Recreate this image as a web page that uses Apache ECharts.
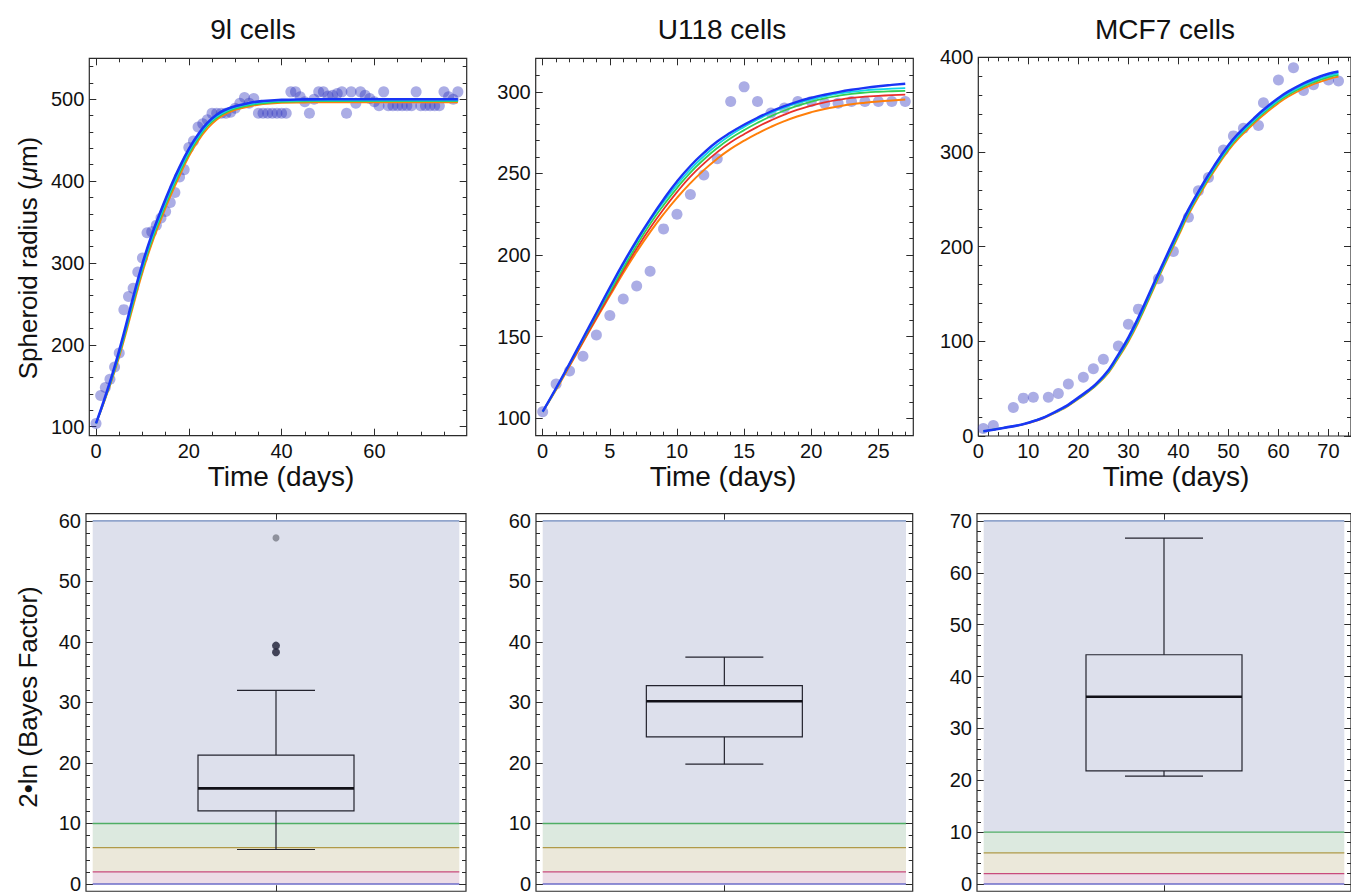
<!DOCTYPE html>
<html>
<head>
<meta charset="utf-8">
<script src="https://cdn.jsdelivr.net/npm/echarts@6/dist/echarts.min.js"></script>
<style>
html,body{margin:0;padding:0;background:#ffffff;}
#chart{width:1351px;height:894px;}
</style>
</head>
<body>
<div id="chart"></div>
<script>
// ---------------- text ----------------
const panelTitles = ['9l cells', 'U118 cells', 'MCF7 cells'];
const timeAxisTitle = 'Time (days)';
const nLabels = ['n = 32', 'n = 8', 'n = 5'];

// ---------------- 9l cells ----------------
const days9l = [0,1,2,3,4,5,6,7,8,9,10,11,12,13,14,15,16,17,18,19,20,21,22,23,24,25,26,27,28,29,30,31,32,33,34,35,36,37,38,39,40,41,42,43,44,45,46,47,48,49,50,51,52,53,54,55,56,57,58,59,60,61,62,63,64,65,66,67,68,69,70,71,72,73,74,75,76,77,78];
const radius9l = [104,138,148,158,173,190,243,259,269,289,
                  306,337,338,346,355,363,374,386,405,414,
                  441,449,466,470,475,483,483,483,483,484,
                  489,495,502,495,501,483,483,483,483,483,
                  483,483,509,509,503,497,483,500,509,509,
                  504,505,507,509,483,509,495,509,505,501,
                  497,492,509,492,492,492,492,492,492,509,
                  492,492,492,492,492,509,503,500,509];
const fitDays9l = [0,2,4,6,8,10,12,14,16,18,20,22,24,26,28,30,33,36,40,45,50,60,70,78];
const fit9lBlue   = [104,137,173,214,258,299,334,364,392,417,439,457,471,481,487.5,491.5,495.5,497.8,499.2,499.8,500,500,500,500];
const fit9lCyan   = [104,136,171,211,254,295,330,360,388,413,436,454,469,479,485.5,490,494,496.5,498,498.5,498.6,498.6,498.6,498.6];
const fit9lGreen  = [104,135,169,208,251,292,327,357,385,410,433,452,467,477,484,488.5,492.5,495,496.8,497.5,497.6,497.6,497.6,497.6];
const fit9lOrange = [104,134,167,205,247,288,323,353,381,406,430,449,464,475,482,487,491,494,495.5,496,496.2,496.2,496.2,496.2];

// ---------------- U118 cells ----------------
const daysU118 = [0,1,2,3,4,5,6,7,8,9,10,11,12,13,14,15,16,17,18,19,20,21,22,23,24,25,26,27];
const radiusU118 = [104,121,129,138,151,163,173,181,190,216,225,237,249,259,294,303,294,287,290,294,294,293,293,294,294,294,294,294];
const fitDaysU118 = [0,1,2,3,4,5,6,7,8,9,10,11,12,13,14,15,16,17,18,19,20,21,22,23,24,25,26,27];
const fitU118Blue   = [104,118.5,133.5,149,164.5,180,195,209,222,234,245,254.5,262.5,269.5,275,279.8,284.1,287.9,291.2,294,296.3,298.2,299.8,301.2,302.4,303.4,304.2,304.9];
const fitU118Cyan   = [104,118.2,133.2,148.5,164,179,194,208,221,232.5,243,252.5,260.5,267.5,273.5,278.5,283,287,290.3,293,295.3,297.2,298.8,300,300.9,301.5,301.9,302.2];
const fitU118Green  = [104,118,133,148,163,177.5,192,206,219,230.5,241,250.5,258.5,265.5,271.5,276.5,281,285,288.5,291.5,294,296,297.5,298.7,299.5,300,300.3,300.5];
const fitU118Red    = [104,118,132.5,147,161.5,176,190.5,204,216.5,228,238.5,248,256,263,269,274,278.5,282.5,286,289,291.5,293.5,295,296.2,297,297.5,297.9,298.2];
const fitU118Orange = [104,117.5,132,146.5,161,175,189,202,214,225,235,244,252,259,265,270,274.5,278.5,282,285,287.5,289.5,291,292.3,293.3,294.1,294.7,295.2];

// ---------------- MCF7 cells ----------------
const daysMCF7 = [1,3,7,9,11,14,16,18,21,23,25,28,30,32,36,39,42,44,46,49,51,53,56,57,60,63,65,67,70,72];
const radiusMCF7 = [8,11,30,40,41,41,45,55,62,71,81,95,118,134,166,195,231,259,273,302,317,325,328,352,376,389,365,371,376,375];
const fitDaysMCF7 = [1,5,10,15,20,25,28,30,32,35,37,40,42,45,47,50,52,55,57,60,62,65,67,70,72];
const fitMCF7Blue   = [5,8.5,14,24.5,40.5,63,86,104,125,160,183,217,239,267,284,307,319.5,335,344.5,357,364,372.5,377,382.5,385];
const fitMCF7Cyan   = [5,8.5,14,24,40,62,84.5,102,123,158,181,215,237,265,282,305,317.5,333,342.5,355,362,370.5,375,380.5,383];
const fitMCF7Green  = [5,8.5,14,24,39.5,61.5,83.5,101,121.5,156.5,179.5,213,235.5,263.5,280.5,303.5,316,331.5,341,353.5,360.5,369,373.5,379,381.5];
const fitMCF7Orange = [5,8.5,13.5,23.5,39,60.5,82.5,99.5,120,155,178,211,233.5,261.5,278.5,301.5,314,329.5,339,351.5,358.5,367,371.5,377,379.5];

// ---------------- Bayes factor box plots ----------------
// [lower whisker, Q1, median, Q3, upper whisker]
const box9l   = [5.7, 12.1, 15.8, 21.3, 32.0];
const boxU118 = [19.8, 24.3, 30.2, 32.8, 37.5];
const boxMCF7 = [20.8, 21.8, 36.1, 44.2, 66.7];
const outliers9l = [38.3, 39.4];
const farOutliers9l = [57.2];
const boxCategory = [''];
const bandBounds60 = [[0,2],[2,6],[6,10],[10,60]];
const bandBounds70 = [[0,2],[2,6],[6,10],[10,70]];
const bandLines60 = [0,2,6,10,60];
const bandLines70 = [0,2,6,10,70];

// ---------------- tick values ----------------
const ticks9lX = [0,20,40,60];
const minor9lX = [5,10,15,25,30,35,45,50,55,65,70,75];
const ticks9lY = [100,200,300,400,500];
const minor9lY = [120,140,160,180,220,240,260,280,320,340,360,380,420,440,460,480,520,540];
const ticksU118X = [0,5,10,15,20,25];
const minorU118X = [1,2,3,4,6,7,8,9,11,12,13,14,16,17,18,19,21,22,23,24,26,27];
const ticksU118Y = [100,150,200,250,300];
const minorU118Y = [110,120,130,140,160,170,180,190,210,220,230,240,260,270,280,290,310];
const ticksMCF7X = [0,10,20,30,40,50,60,70];
const minorMCF7X = [2,4,6,8,12,14,16,18,22,24,26,28,32,34,36,38,42,44,46,48,52,54,56,58,62,64,66,68,72,74];
const ticksMCF7Y = [0,100,200,300,400];
const minorMCF7Y = [20,40,60,80,120,140,160,180,220,240,260,280,320,340,360,380];
const ticksBF60 = [0,10,20,30,40,50,60];
const minorBF60 = [2,4,6,8,12,14,16,18,22,24,26,28,32,34,36,38,42,44,46,48,52,54,56,58];
const ticksBF70 = [0,10,20,30,40,50,60,70];
const minorBF70 = [2,4,6,8,12,14,16,18,22,24,26,28,32,34,36,38,42,44,46,48,52,54,56,58,62,64,66,68];

// ---------------- styles / layout ----------------
const FONT = '"Liberation Sans", Arial, Helvetica, sans-serif';
const TICK = '#2b2b2b';
const DOT = 'rgba(45,50,190,0.5)';
const CURVE = {blue:'#1a35f5', cyan:'#12d6e6', green:'#34cf52', red:'#e8302a', orange:'#ff7f0a'};
const bandFills = ['#ecdce6', '#ebe8da', '#dce9df', '#dde0ec'];
const bandLineColors = ['#6c6cc8', '#c84a7c', '#b09a48', '#4fae64', '#6d87bb'];
const BAND_INSET = 6.7;

const grids = [
  {left: 89.3, top: 58.3, width: 377.4, height: 377.4},
  {left: 535.7, top: 58.3, width: 377.6, height: 377.4},
  {left: 978.3, top: 57.3, width: 376, height: 378.7},
  {left: 86, top: 513.7, width: 380, height: 380.6},
  {left: 536, top: 513.7, width: 376.7, height: 380.6},
  {left: 977, top: 513.7, width: 376, height: 380.6}
].map(g => Object.assign({show: true, borderColor: '#2b2b2b', borderWidth: 1.2, backgroundColor: 'transparent'}, g));

const xAxes = [], yAxes = [];

function addValueAxes(list, dim, gi, min, max, major, minor) {
  const sides = dim === 'x' ? ['bottom', 'top'] : ['left', 'right'];
  const first = list.length;
  sides.forEach((pos, si) => {
    [[major, 7, si === 0], [minor, 4, false]].forEach(([vals, len, lab]) => {
      list.push({
        type: 'value', gridIndex: gi, min: min, max: max, position: pos,
        axisLine: {show: false, onZero: false},
        splitLine: {show: false},
        axisTick: {show: vals.length > 0, inside: true, length: len, customValues: vals,
                   lineStyle: {color: TICK, width: 1}},
        axisLabel: {show: lab, customValues: major, fontSize: 20, fontFamily: FONT,
                    color: '#111', margin: 5}
      });
    });
  });
  return first;
}

function addCatAxes(gi) {
  const first = xAxes.length;
  ['bottom', 'top'].forEach(pos => {
    xAxes.push({
      type: 'category', gridIndex: gi, data: boxCategory, position: pos, boundaryGap: true,
      axisLine: {show: false, onZero: false},
      axisTick: {show: true, inside: true, alignWithLabel: true, length: 6, lineStyle: {color: TICK, width: 1}},
      axisLabel: {show: false}, splitLine: {show: false}
    });
  });
  return first;
}

const pairs = (xs, ys) => xs.map((x, i) => [x, ys[i]]);
const series = [];

function addGrowthPanel(gi, xr, yr, xt, xm, yt, ym, days, radius, fitDays, curves) {
  const xi = addValueAxes(xAxes, 'x', gi, xr[0], xr[1], xt, xm);
  const yi = addValueAxes(yAxes, 'y', gi, yr[0], yr[1], yt, ym);
  series.push({
    type: 'scatter', xAxisIndex: xi, yAxisIndex: yi, data: pairs(days, radius),
    symbolSize: 11, itemStyle: {color: DOT}, z: 2, silent: true
  });
  curves.forEach(([vals, color, width]) => {
    series.push({
      type: 'line', xAxisIndex: xi, yAxisIndex: yi, data: pairs(fitDays, vals),
      showSymbol: false, smooth: 0.5,
      lineStyle: {color: color, width: width}, z: 3, silent: true
    });
  });
}

addGrowthPanel(0, [-1.45, 79.9], [89, 550], ticks9lX, minor9lX, ticks9lY, minor9lY,
  days9l, radius9l, fitDays9l,
  [[fit9lOrange, CURVE.orange, 1.8], [fit9lGreen, CURVE.green, 1.8], [fit9lCyan, CURVE.cyan, 1.8], [fit9lBlue, CURVE.blue, 2.6]]);
addGrowthPanel(1, [-0.52, 27.6], [89.3, 320.5], ticksU118X, minorU118X, ticksU118Y, minorU118Y,
  daysU118, radiusU118, fitDaysU118,
  [[fitU118Orange, CURVE.orange, 2], [fitU118Red, CURVE.red, 1.8], [fitU118Green, CURVE.green, 1.8], [fitU118Cyan, CURVE.cyan, 1.8], [fitU118Blue, CURVE.blue, 2.4]]);
addGrowthPanel(2, [0, 74.5], [0, 400], ticksMCF7X, minorMCF7X, ticksMCF7Y, minorMCF7Y,
  daysMCF7, radiusMCF7, fitDaysMCF7,
  [[fitMCF7Orange, CURVE.orange, 1.8], [fitMCF7Green, CURVE.green, 1.8], [fitMCF7Cyan, CURVE.cyan, 1.8], [fitMCF7Blue, CURVE.blue, 2.6]]);

function bandRender(params, api) {
  const cs = params.coordSys;
  const y0 = api.coord([0, api.value(1)])[1];
  const y1 = api.coord([0, api.value(2)])[1];
  return {
    type: 'rect',
    shape: {x: cs.x + BAND_INSET, y: Math.min(y0, y1), width: cs.width - 2 * BAND_INSET, height: Math.abs(y1 - y0)},
    style: {fill: bandFills[params.dataIndex]}
  };
}
function bandLineRender(params, api) {
  const cs = params.coordSys;
  const y = api.coord([0, api.value(1)])[1];
  return {
    type: 'line',
    shape: {x1: cs.x + BAND_INSET, y1: y, x2: cs.x + cs.width - BAND_INSET, y2: y},
    style: {stroke: bandLineColors[params.dataIndex], lineWidth: 1.3}
  };
}
function boxRender(params, api) {
  const x = api.coord([0, api.value(3)])[0];
  const y = k => api.coord([0, api.value(k)])[1];
  const yl = y(1), yq1 = y(2), ym = y(3), yq3 = y(4), yh = y(5);
  const hw = 78, cw = 39;
  const st = {stroke: '#23232e', lineWidth: 1.2, fill: 'none'};
  return {
    type: 'group', children: [
      {type: 'rect', shape: {x: x - hw, y: yq3, width: 2 * hw, height: yq1 - yq3}, style: st},
      {type: 'line', shape: {x1: x, y1: yq3, x2: x, y2: yh}, style: st},
      {type: 'line', shape: {x1: x, y1: yq1, x2: x, y2: yl}, style: st},
      {type: 'line', shape: {x1: x - cw, y1: yh, x2: x + cw, y2: yh}, style: st},
      {type: 'line', shape: {x1: x - cw, y1: yl, x2: x + cw, y2: yl}, style: st},
      {type: 'line', shape: {x1: x - hw, y1: ym, x2: x + hw, y2: ym}, style: {stroke: '#111118', lineWidth: 2.6}}
    ]
  };
}

function addBoxPanel(gi, yr, yt, ym, box, bounds, lines, outl, farOutl) {
  const xi = addCatAxes(gi);
  const yi = addValueAxes(yAxes, 'y', gi, yr[0], yr[1], yt, ym);
  series.push({
    type: 'custom', xAxisIndex: xi, yAxisIndex: yi, renderItem: bandRender,
    data: bounds.map(b => [0, b[0], b[1]]), encode: {x: 0, y: [1, 2]}, z: 1, silent: true
  });
  series.push({
    type: 'custom', xAxisIndex: xi, yAxisIndex: yi, renderItem: bandLineRender,
    data: lines.map(v => [0, v]), encode: {x: 0, y: 1}, z: 2, silent: true
  });
  series.push({
    type: 'custom', xAxisIndex: xi, yAxisIndex: yi, renderItem: boxRender,
    data: [[0].concat(box)], encode: {x: 0, y: [1, 2, 3, 4, 5]}, z: 3, silent: true
  });
  if (outl.length) {
    series.push({
      type: 'scatter', xAxisIndex: xi, yAxisIndex: yi, data: outl.map(v => [0, v]),
      symbolSize: 8, itemStyle: {color: '#1b1d33'}, z: 4, silent: true
    });
  }
  if (farOutl.length) {
    series.push({
      type: 'scatter', xAxisIndex: xi, yAxisIndex: yi, data: farOutl.map(v => [0, v]),
      symbolSize: 7, itemStyle: {color: '#7a7d88'}, z: 4, silent: true
    });
  }
}

addBoxPanel(3, [-1.2, 61.2], ticksBF60, minorBF60, box9l, bandBounds60, bandLines60, outliers9l, farOutliers9l);
addBoxPanel(4, [-1.2, 61.2], ticksBF60, minorBF60, boxU118, bandBounds60, bandLines60, [], []);
addBoxPanel(5, [-1.4, 71.4], ticksBF70, minorBF70, boxMCF7, bandBounds70, bandLines70, [], []);

// ---------------- free text ----------------
const titleX = [253, 722, 1165];
const timeX = [281, 723, 1176];
const nRight = [440, 880, 1325];
const graphic = [];
panelTitles.forEach((t, i) => graphic.push({
  type: 'text', x: titleX[i], y: 29, silent: true,
  style: {text: t, fontSize: 28, fontFamily: FONT, fill: '#111', align: 'center', verticalAlign: 'middle', textAlign: 'center', textVerticalAlign: 'middle'}
}));
timeX.forEach(x => graphic.push({
  type: 'text', x: x, y: 476, silent: true,
  style: {text: timeAxisTitle, fontSize: 28, fontFamily: FONT, fill: '#111', align: 'center', verticalAlign: 'middle', textAlign: 'center', textVerticalAlign: 'middle'}
}));
nLabels.forEach((t, i) => graphic.push({
  type: 'text', x: nRight[i], y: 566, silent: true,
  style: {text: t, fontSize: 32, fontFamily: FONT, fill: '#111', align: 'right', verticalAlign: 'middle', textAlign: 'right', textVerticalAlign: 'middle'}
}));
graphic.push({
  type: 'text', x: 28, y: 258, rotation: Math.PI / 2, silent: true,
  style: {text: '{r|Spheroid radius (}{i|μ}{r|m)}', fontSize: 26, fontFamily: FONT, fill: '#111',
          align: 'center', verticalAlign: 'middle', textAlign: 'center', textVerticalAlign: 'middle',
          rich: {r: {fontSize: 26, fontFamily: FONT, fill: '#111'},
                 i: {fontSize: 26, fontFamily: FONT, fontStyle: 'italic', fill: '#111'}}}
});
graphic.push({
  type: 'text', x: 28, y: 697, rotation: Math.PI / 2, silent: true,
  style: {text: '2•ln (Bayes Factor)', fontSize: 26, fontFamily: FONT, fill: '#111',
          align: 'center', verticalAlign: 'middle', textAlign: 'center', textVerticalAlign: 'middle'}
});

const chart = echarts.init(document.getElementById('chart'), null, {renderer: 'svg'});
chart.setOption({
  animation: false,
  backgroundColor: '#ffffff',
  grid: grids,
  xAxis: xAxes,
  yAxis: yAxes,
  series: series,
  graphic: graphic
});
</script>
</body>
</html>
